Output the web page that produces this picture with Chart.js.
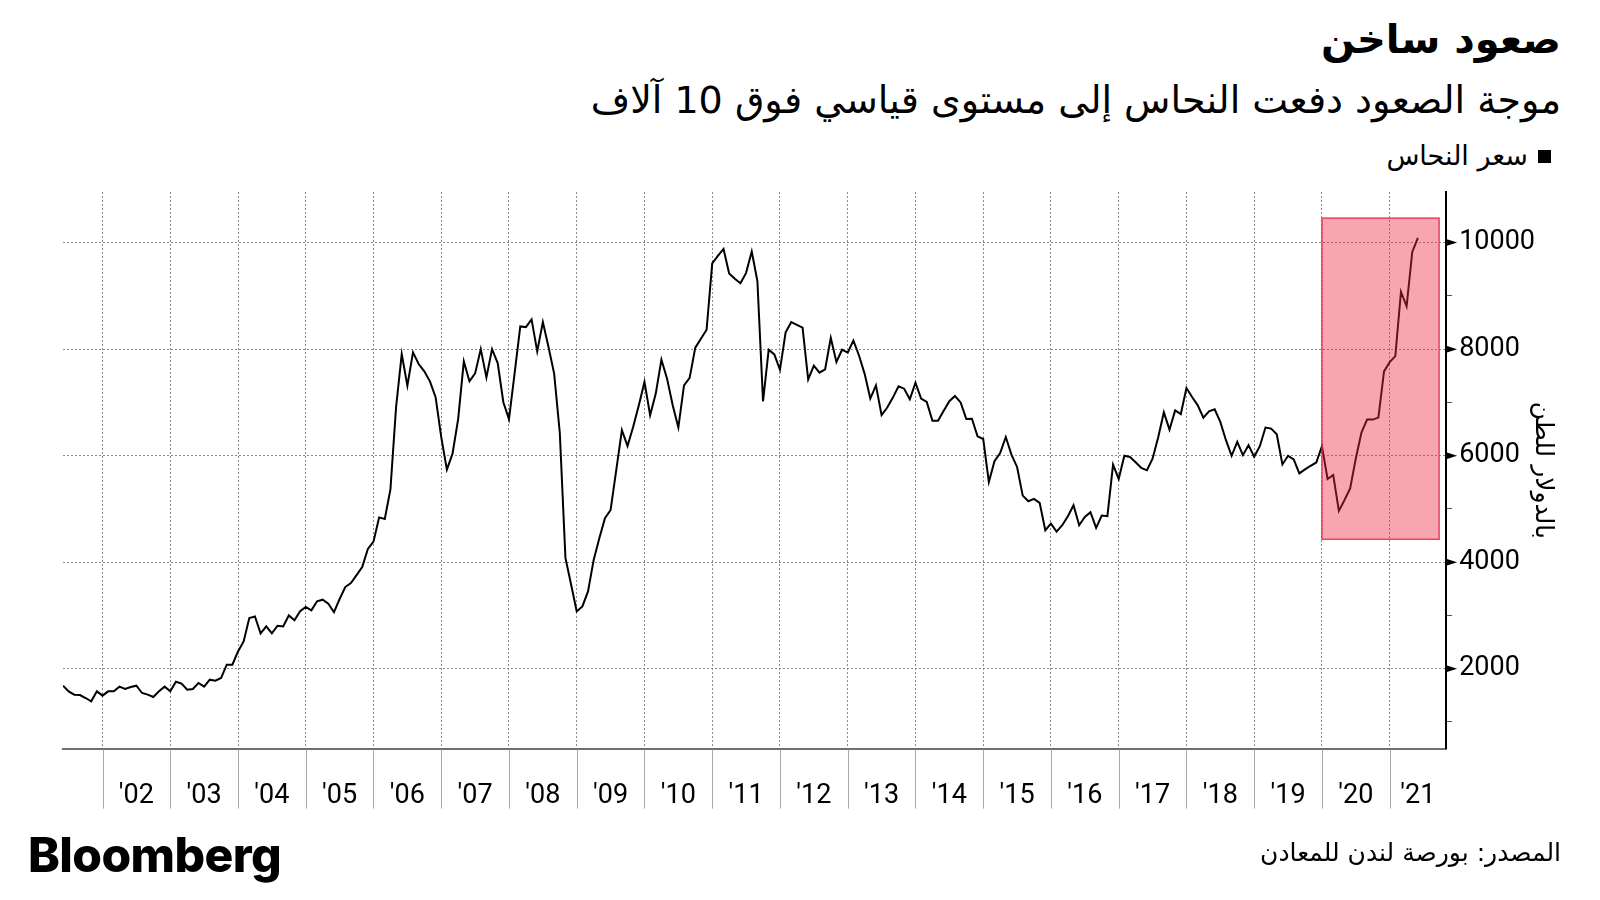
<!DOCTYPE html>
<html lang="ar">
<head>
<meta charset="utf-8">
<script src="https://cdn.jsdelivr.net/npm/chart.js@4.4.1/dist/chart.umd.min.js"></script>
<style>
  html, body { margin: 0; padding: 0; background: #fff; }
  body { width: 1600px; height: 900px; position: relative; overflow: hidden; font-family: 'DejaVu Sans', 'Noto Sans', sans-serif; color: #000; }
  .title { position: absolute; right: 39px; top: 16px; font-size: 40px; font-weight: bold; direction: rtl; }
  .subtitle { position: absolute; right: 39px; top: 78px; font-size: 38px; direction: rtl; }
  .legend { position: absolute; right: 49px; top: 140px; direction: rtl; display: flex; align-items: center; gap: 10px; font-size: 27px; line-height: 32px; }
  .legend .sw { display: inline-block; width: 13px; height: 13px; }
  #wrap { position: absolute; left: 0; top: 128px; width: 1600px; height: 730px; }
  .logo { position: absolute; left: 28px; top: 825px; font-family: Inter, Roboto, sans-serif; font-weight: 800; font-size: 48px; letter-spacing: -0.6px; }
  .source { position: absolute; right: 39px; top: 838px; font-size: 25px; direction: rtl; }
</style>
</head>
<body>
<div class="title">صعود ساخن</div>
<div class="subtitle">موجة الصعود دفعت النحاس إلى مستوى قياسي فوق 10 آلاف</div>
<div class="legend" id="legend"></div>
<div id="wrap"><canvas id="copperChart"></canvas></div>
<div class="logo">Bloomberg</div>
<div class="source">المصدر: بورصة لندن للمعادن</div>

<script>
// month-end prices, May 2001 -> May 2021 (USD / tonne)
const startYear = 2001;
const startMonth = 5;
const prices = [
  1681, 1575, 1513, 1506, 1450, 1388, 1575, 1494, 1575, 1575, 1663, 1619,
  1656, 1681, 1544, 1513, 1469, 1575, 1663, 1575, 1756, 1719, 1606, 1619,
  1731, 1663, 1794, 1775, 1825, 2075, 2075, 2325, 2513, 2950, 2981, 2663,
  2794, 2663, 2806, 2794, 3000, 2910, 3078, 3159, 3097, 3265, 3296, 3222,
  3060, 3309, 3533, 3608, 3757, 3907, 4250, 4387, 4841, 4810, 5365, 6910,
  7907, 7315, 7938, 7720, 7583, 7396, 7097, 6349, 5739, 6037, 6692, 7769,
  7396, 7545, 8000, 7470, 8000, 7738, 7003, 6685, 7550, 8427, 8414, 8558,
  7958, 8508, 8039, 7540, 6430, 4080, 3580, 3076, 3169, 3450, 4043, 4449,
  4824, 4980, 5729, 6478, 6179, 6541, 6947, 7384, 6759, 7165, 7802, 7446,
  6947, 6528, 7321, 7459, 8027, 8196, 8364, 9610, 9750, 9881, 9420, 9320,
  9237, 9432, 9834, 9279, 7020, 7990, 7900, 7612, 8316, 8506, 8455, 8404,
  7430, 7688, 7557, 7622, 8210, 7760, 7989, 7933, 8162, 7880, 7536, 7072,
  7319, 6762, 6904, 7090, 7301, 7257, 7059, 7369, 7072, 7010, 6657, 6657,
  6842, 7022, 7120, 7000, 6690, 6694, 6363, 6313, 5506, 5894, 6050, 6350,
  6019, 5788, 5250, 5144, 5188, 5113, 4600, 4725, 4575, 4694, 4863, 5069,
  4694, 4850, 4938, 4644, 4875, 4863, 5831, 5563, 6000, 5975, 5875, 5769,
  5725, 5944, 6344, 6813, 6488, 6850, 6781, 7269, 7101, 6945, 6714, 6833,
  6870, 6633, 6290, 5997, 6259, 6010, 6197, 5978, 6178, 6527, 6508, 6402,
  5835, 5997, 5929, 5667, 5741, 5810, 5872, 6178, 5561, 5636, 4962, 5168,
  5386, 5947, 6434, 6677, 6677, 6714, 7581, 7755, 7868, 9077, 8803, 9825,
  10087
];
const yearLabels = ["'02", "'03", "'04", "'05", "'06", "'07", "'08", "'09", "'10", "'11",
                    "'12", "'13", "'14", "'15", "'16", "'17", "'18", "'19", "'20", "'21"];
const yTickValues = [1000, 2000, 3000, 4000, 5000, 6000, 7000, 8000, 9000, 10000];
const yMin = 500, yMax = 10950;
const xMax = 2021.8333;
// the pink "record rally" box
const highlight = { from: 2020, to: 2021.73, low: 4430, high: 10460 };

const points = prices.map((v, i) => ({ x: startYear + (startMonth + i) / 12, y: v }));
const xMin = points[0].x;
const isMajor = (v) => v % 2000 === 0;

// year boundaries get a grid line, the middle of each year gets the label
const xTicks = [];
yearLabels.forEach((lab, i) => {
    const yr = 2002 + i;
    xTicks.push({ value: yr });
    xTicks.push({ value: (yr + Math.min(yr + 1, xMax)) / 2 });
});

const highlightBox = {
    id: 'highlightBox',
    afterDatasetsDraw(chart) {
        const { ctx, scales: { x, y } } = chart;
        const l = x.getPixelForValue(highlight.from);
        const r = x.getPixelForValue(highlight.to);
        const t = y.getPixelForValue(highlight.high);
        const b = y.getPixelForValue(highlight.low);
        ctx.save();
        ctx.fillStyle = 'rgba(240, 40, 70, 0.42)';
        ctx.fillRect(l, t, r - l, b - t);
        ctx.strokeStyle = 'rgba(225, 45, 75, 0.85)';
        ctx.lineWidth = 1.5;
        ctx.strokeRect(l, t, r - l, b - t);
        ctx.restore();
    }
};

// long separators under the x axis + little arrow ticks on the value axis
const axisMarks = {
    id: 'axisMarks',
    afterDraw(chart) {
        const { ctx, scales: { x, y } } = chart;
        ctx.save();
        ctx.strokeStyle = '#a8a8a8';
        ctx.lineWidth = 1;
        x.ticks.forEach(t => {
            if (!Number.isInteger(t.value)) return;
            const px = Math.round(x.getPixelForValue(t.value)) + 0.5;
            ctx.beginPath();
            ctx.moveTo(px, x.top + 1);
            ctx.lineTo(px, x.top + 60);
            ctx.stroke();
        });
        ctx.fillStyle = '#000';
        y.ticks.forEach(t => {
            if (!isMajor(t.value)) return;
            const py = y.getPixelForValue(t.value);
            ctx.beginPath();
            ctx.moveTo(y.left, py - 3.5);
            ctx.lineTo(y.left + 11, py);
            ctx.lineTo(y.left, py + 3.5);
            ctx.closePath();
            ctx.fill();
        });
        ctx.restore();
    }
};

const chart = new Chart(document.getElementById('copperChart'), {
    type: 'line',
    data: {
        datasets: [{
            label: 'سعر النحاس',
            data: points,
            borderColor: '#000',
            backgroundColor: '#000',
            borderWidth: 2,
            pointRadius: 0,
            tension: 0
        }]
    },
    options: {
        responsive: true,
        maintainAspectRatio: false,
        animation: false,
        layout: { padding: { left: 63, right: 24, top: 64, bottom: 15 } },
        plugins: {
            legend: { display: false },
            tooltip: { enabled: false }
        },
        scales: {
            x: {
                type: 'linear',
                min: xMin,
                max: xMax,
                afterBuildTicks: (scale) => { scale.ticks = xTicks.map(t => ({ value: t.value })); },
                grid: {
                    color: (c) => Number.isInteger(c.tick.value) ? '#8a8a8a' : 'rgba(0,0,0,0)',
                    lineWidth: 1,
                    drawTicks: false
                },
                border: { display: true, color: '#6f6f6f', width: 2, dash: [2, 2] },
                ticks: {
                    autoSkip: false,
                    maxRotation: 0,
                    padding: 31,
                    color: '#000',
                    font: { size: 27, family: 'Roboto, sans-serif' },
                    callback: (v) => Number.isInteger(v) ? '' : yearLabels[Math.floor(v) - 2002]
                }
            },
            y: {
                position: 'right',
                min: yMin,
                max: yMax,
                afterBuildTicks: (scale) => { scale.ticks = yTickValues.map(v => ({ value: v })); },
                grid: {
                    color: (c) => isMajor(c.tick.value) ? '#8a8a8a' : 'rgba(0,0,0,0)',
                    lineWidth: 1,
                    tickColor: (c) => isMajor(c.tick.value) ? 'rgba(0,0,0,0)' : '#555',
                    tickLength: 6
                },
                border: { display: true, color: '#000', width: 2, dash: [2, 2] },
                ticks: {
                    padding: 7,
                    color: '#000',
                    font: { size: 27, family: 'Roboto, sans-serif' },
                    callback: (v) => isMajor(v) ? String(v) : ''
                },
                title: {
                    display: true,
                    text: 'بالدولار للطن',
                    color: '#000',
                    padding: { top: 19, bottom: -15 },
                    font: { size: 25, family: "'DejaVu Sans', sans-serif" }
                }
            }
        }
    },
    plugins: [highlightBox, axisMarks]
});

// legend as html, swatch on the right like the original
document.getElementById('legend').innerHTML = chart.data.datasets
    .map(ds => `<span class="sw" style="background:${ds.borderColor}"></span><span>${ds.label}</span>`)
    .join('');
</script>
</body>
</html>
